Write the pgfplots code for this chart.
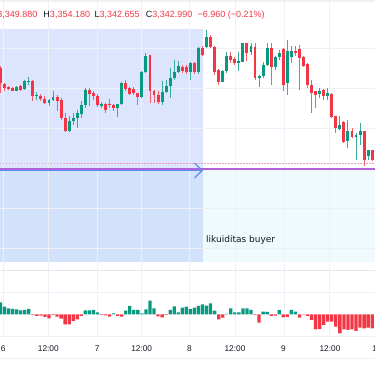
\documentclass[border=0pt]{standalone}
\usepackage{pgfplots}
\pgfplotsset{compat=1.18}
\usepackage{pgfplotstable}
\usepackage{fontspec}
\setmainfont{Liberation Sans}
\newfontfamily\dejavu{DejaVu Sans}
\definecolor{tvgreen}{RGB}{8,153,129}
\definecolor{tvred}{RGB}{242,54,69}
\definecolor{tvtext}{RGB}{19,23,34}
\definecolor{zoneA}{RGB}{221,228,253}
\definecolor{zoneB}{RGB}{239,250,252}
\definecolor{zoneAB}{RGB}{209,226,250}
\definecolor{gridc}{RGB}{238,241,248}
\definecolor{sepc}{RGB}{228,231,238}
\definecolor{purp}{RGB}{176,96,216}
\definecolor{arrowblue}{RGB}{90,141,245}
\definecolor{dashpink}{RGB}{228,120,150}

% candle OHLC in chart pixel units (y grows downward)
\pgfplotstableread{
k o h l c
1 68 66 93 83
2 84 83 91 88
3 87 85.5 90 89
4 88 87 91 90.7
5 90.7 86 91 86.7
6 85.7 85 91 89.7
7 88.7 79.7 89.7 81.3
8 81.3 77.3 84.7 80.7
9 80.7 80 101 96.3
10 96.3 92.3 99.7 94.7
11 95.7 94 100.7 99
12 98.7 95.7 103.7 103
13 103 98.7 106.3 99.7
14 100.3 90.7 101.3 97.3
15 97.3 94.7 110.7 101.3
16 99.7 98 119.7 118
17 118 113 132 131.3
18 131.3 116.3 132 121.3
19 121.3 113 124.7 118
20 118 109.7 128 113
21 114 101.3 118 105.3
22 105.3 88 108 89.7
23 89.7 88 106.3 93.7
24 93 91 100 96.3
25 96.3 94 107 105
26 105.7 102 108 104
27 104 103 113 109.7
28 104 98.7 108 105.3
29 104.7 104 111.3 108
30 108 104 117.3 104
31 104 82 105 83
32 83 79.7 91.3 89
33 88 87 95 94
34 88.7 87 95 93
35 93 93 104.7 97.3
36 97.3 71 98 72.3
37 72.3 53 73 56.3
38 54.7 54.7 103 91.3
39 91.3 89.7 103 95.3
40 95.3 91.3 104 102
41 102 81.3 104.7 92
42 92 79.7 93 86.3
43 86.3 68 98 78
44 78 59.7 79.7 72.3
45 72.3 61.3 73 66.3
46 67.3 64.7 73 70.7
47 67 65 74 72
48 72 62 80 63
49 63 62 74 72
50 72 47 74 48
51 48 46 56 55
52 47.3 29.7 48 37
53 37 35 48 47.3
54 47 46 75 71.7
55 70 69 85.3 81.7
56 81.7 70 82 71
57 71 51.7 73 56
58 56 51.7 63 60
59 59.3 56.7 65 63.3
60 63.3 51.7 70.7 60.7
61 61.7 43 62 43.3
62 43.3 43 61 53.3
63 52 43 55 46.5
64 46.7 43.3 80 78.3
65 78.3 75 86.7 76
66 76 62 78 65
67 65 43.3 66 48.3
68 48.3 43.3 85 66.7
69 67.3 56 70 57.3
70 57.3 50 60 53.3
71 48.7 48 91.3 84.7
72 83 39.7 94.7 51.3
73 57.3 46.3 63 50.7
74 50.7 46.3 56.3 53
75 48.7 44.7 89.7 58
76 57.3 56 67.3 66.3
77 64 63 88 84.7
78 84.7 79.7 113 93
79 91.3 91 108 94.7
80 94 88 98 90.7
81 89.7 89 99.7 96.3
82 96.3 88 99.7 93
83 94 93 118 117.3
84 116.3 116 133 128
85 128.7 116.3 129.7 124.7
86 122 121.3 143 142.3
87 141.3 119.7 148 131.3
88 131.3 128 138 137.3
89 137.3 133 159.7 134.7
90 134.7 123 144.7 131.3
91 130.7 130.7 166.3 159.7
92 156.3 149.7 159.7 149.7
93 149.7 149.7 161.3 159.7
}\candles

% histogram values (pixels above zero line)
\pgfplotstableread{
k v
1 12
2 7.7
3 6
4 5.3
5 5
6 4
7 4.3
8 5.3
9 -0.5
10 -1.7
11 -1.3
12 -2.7
13 -4
14 -0.5
15 -2.3
16 -4.3
17 -10
18 -10
19 -6.7
20 -5
21 -1.7
22 4
23 4
24 4.3
25 2
26 -0.7
27 -1
28 -2.3
29 1
30 -1.7
31 -2.3
32 3.7
33 8.3
34 4.3
35 4.3
36 1
37 5
38 13.7
39 6
40 -2
41 -3
42 -0.7
43 4.3
44 8
45 2
46 6.7
47 7.7
48 5.3
49 6.7
50 8.3
51 10
52 8.7
53 11
54 3.7
55 -5
56 -3.3
57 0.3
58 6
59 2
60 2
61 6
62 6
63 4.3
64 -0.7
65 -8.3
66 2.7
67 2.3
68 -1.7
69 -1.3
70 4.3
71 -3
72 -2.7
73 4.3
74 2.7
75 -3.3
76 -0.3
77 -1.7
78 -5.7
79 -15
80 -14.7
81 -10.7
82 -7.3
83 -7.3
84 -12.3
85 -19
86 -15
87 -15.7
88 -15
89 -16.7
90 -13.3
91 -14
92 -13.3
93 -14
}\hist

\pgfplotsset{candle/.style={only marks,mark=*,mark size=0pt,mark options={draw=none,fill=none}}}

\begin{document}
\begin{tikzpicture}
\begin{axis}[at={(0,0)},anchor=south west,width=375bp,height=366bp,scale only axis,
  xmin=0,xmax=375,ymin=0,ymax=366,y dir=reverse,hide axis,clip=false]
% background zones
\fill[zoneA] (axis cs:0,29) rectangle (axis cs:202.7,169.5);
\fill[zoneAB] (axis cs:0,169.5) rectangle (axis cs:202.7,261.7);
\fill[zoneB] (axis cs:202.7,169.5) rectangle (axis cs:375,261.7);
\fill[black!6] (axis cs:0,0) rectangle (axis cs:375,1.8);
% grid
\foreach \gx in {3.3,48.3,97.3,141.7,189.5,235,284,329.5}{
  \edef\tmp{\noexpand\draw[gridc,line width=0.8bp] (axis cs:\gx,2) -- (axis cs:\gx,337);}\tmp}
\foreach \gy in {48,88,128,208,248,292.3,336.7}{
  \edef\tmp{\noexpand\draw[gridc,line width=0.8bp] (axis cs:0,\gy) -- (axis cs:375,\gy);}\tmp}
\draw[sepc,line width=1bp] (axis cs:0,270.5) -- (axis cs:375,270.5);
\draw[gridc,line width=0.8bp] (axis cs:0,358.3) -- (axis cs:375,358.3);
% lines
\draw[dashpink!70,line width=0.8bp,dash pattern=on 1.5bp off 1.5bp] (axis cs:0,163.3) -- (axis cs:375,163.3);
\draw[purp,line width=1.6bp] (axis cs:0,169) -- (axis cs:375,169);
\draw[arrowblue,line width=1.6bp] (axis cs:0,170.6) -- (axis cs:202,170.6);
\draw[arrowblue,line width=1.3bp] (axis cs:194.5,163) -- (axis cs:202,170.6) -- (axis cs:194.5,178);
% candles: wicks and bodies
\addplot[candle,error bars/.cd,y dir=plus,y explicit,error mark=none,
  error bar style={line width=0.9bp,draw=tvgreen!80}]
  table[x expr={0.5+4.04*(\thisrow{k}-1)},y expr={\thisrow{c}<\thisrow{o} ? \thisrow{h} : nan},
  y error plus expr={\thisrow{l}-\thisrow{h}},y error minus expr=0] {\candles};
\addplot[candle,error bars/.cd,y dir=plus,y explicit,error mark=none,
  error bar style={line width=0.9bp,draw=tvred!80}]
  table[x expr={0.5+4.04*(\thisrow{k}-1)},y expr={\thisrow{c}<\thisrow{o} ? nan : \thisrow{h}},
  y error plus expr={\thisrow{l}-\thisrow{h}},y error minus expr=0] {\candles};
\addplot[candle,error bars/.cd,y dir=plus,y explicit,error mark=none,
  error bar style={line width=2.9bp,draw=tvgreen}]
  table[x expr={0.5+4.04*(\thisrow{k}-1)},y expr={\thisrow{c}<\thisrow{o} ? \thisrow{c} : nan},
  y error plus expr={max(\thisrow{o}-\thisrow{c},1)},y error minus expr=0] {\candles};
\addplot[candle,error bars/.cd,y dir=plus,y explicit,error mark=none,
  error bar style={line width=2.9bp,draw=tvred}]
  table[x expr={0.5+4.04*(\thisrow{k}-1)},y expr={\thisrow{c}<\thisrow{o} ? nan : \thisrow{o}},
  y error plus expr={max(\thisrow{c}-\thisrow{o},1)},y error minus expr=0] {\candles};
% texts
\node[anchor=base east,inner sep=0,font=\fontsize{9bp}{10bp}\selectfont] at (axis cs:37.5,17.3)
  {\textcolor{tvtext}{O}\textcolor{tvred}{3,349.880}};
\node[anchor=base west,inner sep=0,font=\fontsize{9bp}{10bp}\selectfont] at (axis cs:43.3,17.3)
  {\textcolor{tvtext}{H}\textcolor{tvred}{3,354.180}};
\node[anchor=base west,inner sep=0,font=\fontsize{9bp}{10bp}\selectfont] at (axis cs:94.3,17.3)
  {\textcolor{tvtext}{L}\textcolor{tvred}{3,342.655}};
\node[anchor=base west,inner sep=0,font=\fontsize{9bp}{10bp}\selectfont] at (axis cs:145.7,17.3)
  {\textcolor{tvtext}{C}\textcolor{tvred}{3,342.990}};
\node[anchor=base west,inner sep=0,font=\fontsize{9bp}{10bp}\selectfont,text=tvred] at (axis cs:197.3,17.3)
  {−6.960 (−0.21\%)};
\node[anchor=base west,inner sep=0,font=\dejavu\fontsize{9bp}{10bp}\selectfont,text=tvtext] at (axis cs:206,242.3)
  {likuiditas buyer};
\foreach \tx/\tl in {3.3/6,48.3/12:00,97.3/7,141.7/12:00,189.5/8,235/12:00,283.5/9,330/12:00,377/10}{
  \edef\tmp{\noexpand\node[anchor=base,inner sep=0,font=\noexpand\fontsize{8.3bp}{9bp}\noexpand\selectfont,text=tvtext] at (axis cs:\tx,351.7) {\tl};}\tmp}
\end{axis}
\begin{axis}[at={(0,0)},anchor=south west,width=375bp,height=366bp,scale only axis,
  xmin=0,xmax=375,ymin=-51.7,ymax=314.3,hide axis,ybar,bar width=3.3bp]
\addplot[fill=tvgreen,draw=none,bar shift=0pt]
  table[x expr={0.5+4.04*(\thisrow{k}-1)},y expr={\thisrow{v}>=0 ? \thisrow{v} : nan}] {\hist};
\addplot[fill=tvred,draw=none,bar shift=0pt]
  table[x expr={0.5+4.04*(\thisrow{k}-1)},y expr={\thisrow{v}<0 ? \thisrow{v} : nan}] {\hist};
\end{axis}
\pgfresetboundingbox
\path[use as bounding box] (0,0) rectangle (375bp,366bp);
\end{tikzpicture}
\end{document}
